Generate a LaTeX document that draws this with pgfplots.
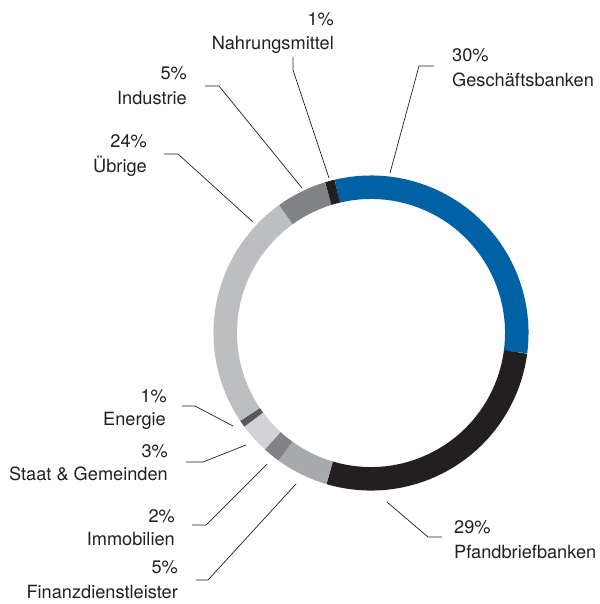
\documentclass[border=0pt]{standalone}
\usepackage{fontspec}
\setmainfont{TeX Gyre Heros}
\usepackage{pgfplots}
\pgfplotsset{compat=1.18}
\definecolor{cBlue}{HTML}{0062A5}
\definecolor{cBlack}{HTML}{231F20}
\definecolor{cFin}{HTML}{A7A9AC}
\definecolor{cImmo}{HTML}{808285}
\definecolor{cStaat}{HTML}{D1D3D4}
\definecolor{cEnergie}{HTML}{58595B}
\definecolor{cUebrige}{HTML}{BCBEC0}
\definecolor{cIndustrie}{HTML}{808285}
\definecolor{cNahrung}{HTML}{231F20}
\definecolor{cText}{HTML}{231F20}
% #1 = cumulative share before the slice, #2 = share (percent), #3 = colour
\newcommand{\slice}[3]{%
  \addplot[draw=#3, line width=23.5pt, line cap=butt, domain=-13.4+3.6*(#1):-13.4+3.6*(#1+#2), samples=40, variable=\t]
    ({371+145.8*sin(\t)},{333-145.8*cos(\t)});}
\begin{document}
\begin{tikzpicture}
\begin{axis}[width=599pt, height=604pt, scale only axis,
  xmin=0, xmax=599, ymin=0, ymax=604, y dir=reverse,
  hide axis, clip=false]
\path (axis cs:0,0) (axis cs:599,604);
% shares (labels show the rounded values)
\slice{0}{30.8}{cBlue}        % Geschaeftsbanken
\slice{30.8}{27.5}{cBlack}    % Pfandbriefbanken
\slice{58.3}{5.4}{cFin}       % Finanzdienstleister
\slice{63.7}{1.8}{cImmo}      % Immobilien
\slice{65.5}{3.1}{cStaat}     % Staat & Gemeinden
\slice{68.6}{0.7}{cEnergie}   % Energie
\slice{69.3}{24.5}{cUebrige}  % Uebrige
\slice{93.8}{5.2}{cIndustrie} % Industrie
\slice{99.0}{1.0}{cNahrung}   % Nahrungsmittel
% leader lines
\addplot[cText, line width=0.7pt, mark=none] coordinates {(390,173) (419,66) (434,66)};
\addplot[cText, line width=0.7pt, mark=none] coordinates {(293,57) (293,70) (329,178)};
\addplot[cText, line width=0.7pt, mark=none] coordinates {(205,86) (219,86) (302,188)};
\addplot[cText, line width=0.7pt, mark=none] coordinates {(164,154) (178,154) (253,222)};
\addplot[cText, line width=0.7pt, mark=none] coordinates {(182,406) (195,406) (233,426)};
\addplot[cText, line width=0.7pt, mark=none] coordinates {(186,462) (203,462) (246,445)};
\addplot[cText, line width=0.7pt, mark=none] coordinates {(192,525) (206,525) (267,464)};
\addplot[cText, line width=0.7pt, mark=none] coordinates {(196,580) (208,580) (296,484)};
\addplot[cText, line width=0.7pt, mark=none] coordinates {(387,502) (428,537) (442,537)};
% labels
\begin{scope}[every node/.style={font=\fontsize{18.2}{24}\selectfont, text=cText, inner sep=0pt}]
\node[anchor=base west] at (axis cs:452,62) {30\%};
\node[anchor=base west] at (axis cs:452,87) {Geschäftsbanken};
\node[anchor=base east] at (axis cs:334,26) {1\%};
\node[anchor=base east] at (axis cs:334,50) {Nahrungsmittel};
\node[anchor=base east] at (axis cs:187,80) {5\%};
\node[anchor=base east] at (axis cs:187,105) {Industrie};
\node[anchor=base east] at (axis cs:147,148) {24\%};
\node[anchor=base east] at (axis cs:147,172) {Übrige};
\node[anchor=base east] at (axis cs:167,402) {1\%};
\node[anchor=base east] at (axis cs:166,425) {Energie};
\node[anchor=base east] at (axis cs:168,457) {3\%};
\node[anchor=base east] at (axis cs:168,480) {Staat \& Gemeinden};
\node[anchor=base east] at (axis cs:175,522) {2\%};
\node[anchor=base east] at (axis cs:175,545) {Immobilien};
\node[anchor=base east] at (axis cs:178,573) {5\%};
\node[anchor=base east] at (axis cs:178,598) {Finanzdienstleister};
\node[anchor=base west] at (axis cs:454,533) {29\%};
\node[anchor=base west] at (axis cs:454,558) {Pfandbriefbanken};
\end{scope}
\end{axis}
\end{tikzpicture}
\end{document}
